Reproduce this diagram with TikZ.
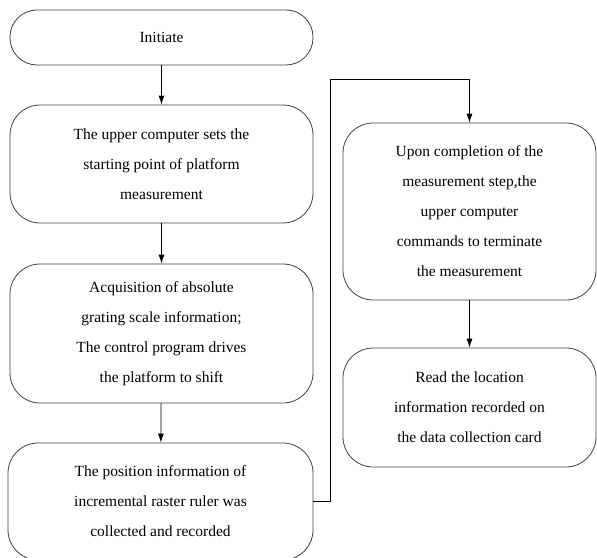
\documentclass[tikz,border=0pt]{standalone}
\usepackage{fontspec}
\setmainfont{Liberation Serif}
\usetikzlibrary{arrows.meta,positioning}

\begin{document}
\begin{tikzpicture}[x=1pt, y=-1pt,
    stage/.style={draw=black!75, line width=0.8pt, rectangle, rounded corners=30pt,
        align=center, inner sep=0pt, font=\fontsize{15.5}{30}\selectfont},
    >={Latex[length=9pt,width=6pt]}]
    \useasboundingbox (0,0) rectangle (597,557);

    % Left column
    \node[stage, rounded corners=27pt, minimum width=303pt, minimum height=55pt] (init) at (161.5,37.5) {Initiate};
    \node[stage, minimum width=303pt, minimum height=118pt] (start) at (161.5,164) {The upper computer sets the\\starting point of platform\\measurement};
    \node[stage, minimum width=303pt, minimum height=139pt] (drive) at (161.5,333.5) {Acquisition of absolute\\grating scale information;\\The control program drives\\the platform to shift};
    \node[stage, minimum width=305pt, minimum height=117pt] (collect) at (160.5,501.5) {The position information of\\incremental raster ruler was\\collected and recorded};

    % Right column
    \node[stage, minimum width=253pt, minimum height=177pt] (stop) at (469.5,211.5) {Upon completion of the\\measurement step,the\\upper computer\\commands to terminate\\the measurement};
    \node[stage, minimum width=253pt, minimum height=119pt] (read) at (469.5,407.5) {Read the location\\information recorded on\\the data collection card};

    % Turning point of the loop line
    \coordinate (loop) at (330,79);

    % Arrows
    \draw[->, line width=0.8pt] (init) -- (start);
    \draw[->, line width=0.8pt] (start) -- (drive);
    \draw[->, line width=0.8pt] (drive) -- (collect);
    \draw[->, line width=0.8pt] (collect.east) -| (loop) -| (stop.north);
    \draw[->, line width=0.8pt] (stop) -- (read);

\end{tikzpicture}
\end{document}
